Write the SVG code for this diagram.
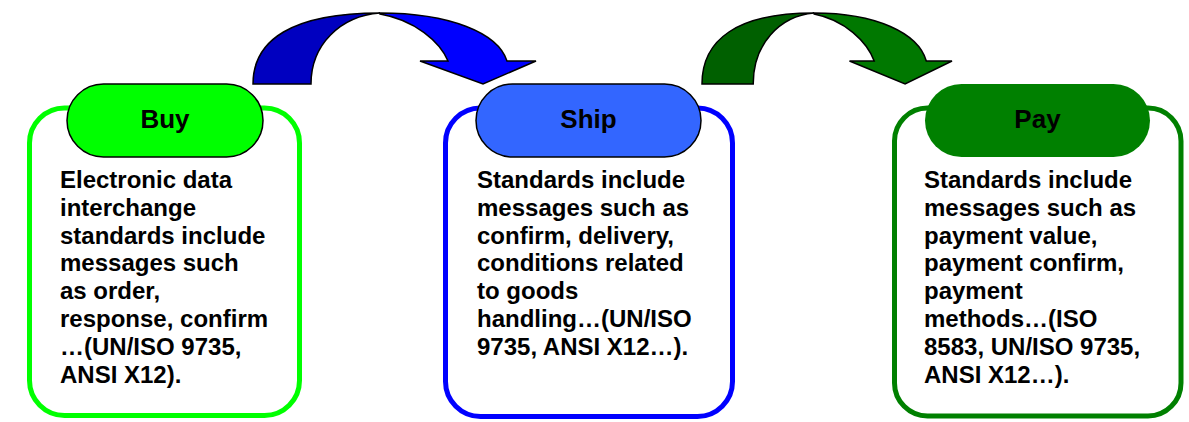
<svg xmlns="http://www.w3.org/2000/svg" width="1189" height="422" viewBox="0 0 1189 422">
<style>
.box{fill:#fff;stroke-width:5}
.pill{stroke:#000;stroke-width:1.5}
.title{font-family:"Liberation Sans",Arial,sans-serif;font-weight:bold;font-size:26px;fill:#000;text-anchor:middle}
.body{font-family:"Liberation Sans",Arial,sans-serif;font-weight:bold;font-size:24px;fill:#000}
.arr{stroke:#000;stroke-width:1.5;stroke-linejoin:miter}
</style>
<rect width="1189" height="422" fill="#fff"/>
<g id="connectors">
  <g id="arrow-buy-ship">
    <path class="arr" fill="#0000C0" d="M253,84 C253,40 292,13 380,13 C340,16 311,45 311,84 Z"/>
    <path class="arr" fill="#0000FF" d="M380,13 C450,13 498,33 507,61 L536,61 L483,84 L420,61 L448,61 C440,42 415,20 380,14 Z"/>
  </g>
  <g id="arrow-ship-pay">
    <path class="arr" fill="#006000" d="M702,84 C702,40 736.4,13 814.1,13 C778.8,16 753.2,45 753.2,84 Z"/>
    <path class="arr" fill="#007800" d="M814.1,13 C876,13 918.3,33 926.3,61 L952,61 L905.1,84 L849.5,61 L874.2,61 C867.1,42 845,20 814.1,14 Z"/>
  </g>
</g>
<g id="buy">
  <rect class="box" x="29.5" y="108" width="270" height="307.5" rx="35" stroke="#00FF00"/>
  <rect class="pill" x="67" y="84" width="196" height="73" rx="36.5" fill="#00FF00"/>
  <text class="title" x="165" y="128">Buy</text>
  <text class="body" x="60" y="188">
    <tspan x="60" dy="0">Electronic data</tspan>
    <tspan x="60" dy="27.8">interchange</tspan>
    <tspan x="60" dy="27.8">standards include</tspan>
    <tspan x="60" dy="27.8">messages such</tspan>
    <tspan x="60" dy="27.8">as order,</tspan>
    <tspan x="60" dy="27.8">response, confirm</tspan>
    <tspan x="60" dy="27.8">…(UN/ISO 9735,</tspan>
    <tspan x="60" dy="27.8">ANSI X12).</tspan>
  </text>
</g>
<g id="ship">
  <rect class="box" x="445.5" y="108" width="287" height="308.5" rx="35" stroke="#0000FF"/>
  <rect class="pill" x="476" y="84" width="225" height="73" rx="36.5" fill="#3366FF"/>
  <text class="title" x="588.5" y="128">Ship</text>
  <text class="body" x="477" y="188">
    <tspan x="477" dy="0">Standards include</tspan>
    <tspan x="477" dy="27.8">messages such as</tspan>
    <tspan x="477" dy="27.8">confirm, delivery,</tspan>
    <tspan x="477" dy="27.8">conditions related</tspan>
    <tspan x="477" dy="27.8">to goods</tspan>
    <tspan x="477" dy="27.8">handling…(UN/ISO</tspan>
    <tspan x="477" dy="27.8">9735, ANSI X12…).</tspan>
  </text>
</g>
<g id="pay">
  <rect class="box" x="894.5" y="108" width="286.5" height="308" rx="33" stroke="#008000"/>
  <rect x="925" y="84" width="225" height="73" rx="36.5" fill="#008000"/>
  <text class="title" x="1037.5" y="128">Pay</text>
  <text class="body" x="924" y="188">
    <tspan x="924" dy="0">Standards include</tspan>
    <tspan x="924" dy="27.8">messages such as</tspan>
    <tspan x="924" dy="27.8">payment value,</tspan>
    <tspan x="924" dy="27.8">payment confirm,</tspan>
    <tspan x="924" dy="27.8">payment</tspan>
    <tspan x="924" dy="27.8">methods…(ISO</tspan>
    <tspan x="924" dy="27.8">8583, UN/ISO 9735,</tspan>
    <tspan x="924" dy="27.8">ANSI X12…).</tspan>
  </text>
</g>
</svg>
